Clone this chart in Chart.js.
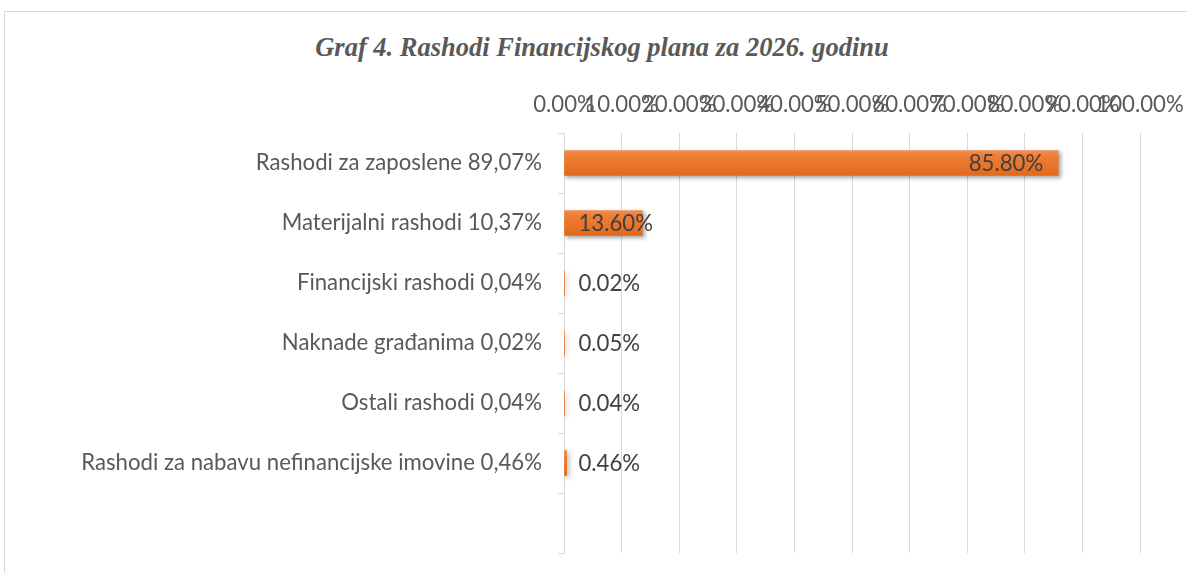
<!DOCTYPE html>
<html>
<head>
<meta charset="utf-8">
<script src="https://cdn.jsdelivr.net/npm/chart.js@4.4.1/dist/chart.umd.min.js"></script>
<style>
  html, body { margin: 0; padding: 0; background: #fff; overflow: hidden; }
  #wrap { position: relative; width: 1187px; height: 573px; }
  #frame { position: absolute; left: 4px; top: 11px; width: 1300px; height: 700px; border: 1px solid #d9d9d9; box-sizing: border-box; }
  #title { position: absolute; left: 0; top: 31px; width: 1204px; text-align: center; font-family: "Liberation Serif", "Times New Roman", serif; font-style: italic; font-weight: bold; font-size: 26.5px; color: #595959; line-height: 32px; }
  canvas { position: absolute; left: 0; top: 0; }
</style>
</head>
<body>
<div id="wrap">
  <div id="frame"></div>
  <div id="title">Graf 4. Rashodi Financijskog plana za 2026. godinu</div>
  <canvas id="c" width="1187" height="573"></canvas>
</div>
<script>
const categories = [
  "Rashodi za zaposlene 89,07%",
  "Materijalni rashodi 10,37%",
  "Financijski rashodi 0,04%",
  "Naknade građanima 0,02%",
  "Ostali rashodi 0,04%",
  "Rashodi za nabavu nefinancijske imovine 0,46%",
  ""
];
const values = [85.80, 13.60, 0.02, 0.05, 0.04, 0.46, null];
const xTicks = [0, 10, 20, 30, 40, 50, 60, 70, 80, 90, 100];

const FONT = "Lato, 'Open Sans', sans-serif";
const FSIZE = 22.2;
const BAR = 25;

function barFill(c) {
  const chart = c.chart;
  const ys = chart.scales.y;
  if (!ys || !chart.chartArea) return '#ED7D31';
  const center = ys.getPixelForValue(c.dataIndex);
  if (!isFinite(center)) return '#ED7D31';
  const g = chart.ctx.createLinearGradient(0, center - BAR / 2, 0, center + BAR / 2);
  g.addColorStop(0, '#F28E51');
  g.addColorStop(0.2, '#EF7E36');
  g.addColorStop(1, '#E3691A');
  return g;
}

const shadowPlugin = {
  id: 'barShadow',
  beforeDatasetDraw(chart) {
    const ctx = chart.ctx;
    ctx.save();
    ctx.shadowColor = 'rgba(0,0,0,0.35)';
    ctx.shadowBlur = 4;
    ctx.shadowOffsetX = 2;
    ctx.shadowOffsetY = 2;
  },
  afterDatasetDraw(chart) {
    chart.ctx.restore();
  }
};

const labelPlugin = {
  id: 'valueLabels',
  afterDatasetsDraw(chart) {
    const ctx = chart.ctx;
    const meta = chart.getDatasetMeta(0);
    ctx.save();
    ctx.font = FSIZE + "px " + FONT;
    ctx.fillStyle = '#404040';
    ctx.textAlign = 'right';
    ctx.textBaseline = 'middle';
    meta.data.forEach((el, i) => {
      const v = values[i];
      if (v === null || v === undefined) return;
      const txt = v.toFixed(2) + '%';
      const w = ctx.measureText(txt).width;
      const right = Math.max(el.x - 15, el.base + 14 + w);
      ctx.fillText(txt, right, el.y + 1);
    });
    ctx.restore();
  }
};

new Chart(document.getElementById('c'), {
  type: 'bar',
  data: {
    labels: categories,
    datasets: [{
      data: values,
      backgroundColor: barFill,
      borderWidth: 0,
      barThickness: BAR
    }]
  },
  options: {
    indexAxis: 'y',
    responsive: false,
    animation: false,
    devicePixelRatio: 1,
    layout: { padding: { left: 0, right: 47, top: 0, bottom: 20 } },
    plugins: {
      legend: { display: false },
      title: { display: false },
      tooltip: { enabled: false }
    },
    scales: {
      x: {
        position: 'top',
        min: 0,
        max: 100,
        afterBuildTicks(scale) { scale.ticks = xTicks.map(v => ({ value: v })); },
        afterFit(scale) { scale.height = 133; scale.paddingLeft = 0; scale.paddingRight = 0; },
        ticks: {
          autoSkip: false,
          maxRotation: 0,
          padding: 15,
          color: '#595959',
          font: { family: FONT, size: FSIZE },
          callback: (v) => Number(v).toFixed(2) + '%'
        },
        grid: { color: '#d9d9d9', lineWidth: 1, drawTicks: false },
        border: { display: false }
      },
      y: {
        afterFit(scale) { scale.width = 564; scale.paddingTop = 0; scale.paddingBottom = 0; },
        ticks: {
          padding: 16,
          color: '#595959',
          font: { family: FONT, size: FSIZE }
        },
        grid: { drawOnChartArea: false, drawTicks: true, tickLength: 6, color: '#d9d9d9', offset: true },
        border: { display: true, color: '#d9d9d9', width: 1 }
      }
    }
  },
  plugins: [shadowPlugin, labelPlugin]
});
</script>
</body>
</html>
